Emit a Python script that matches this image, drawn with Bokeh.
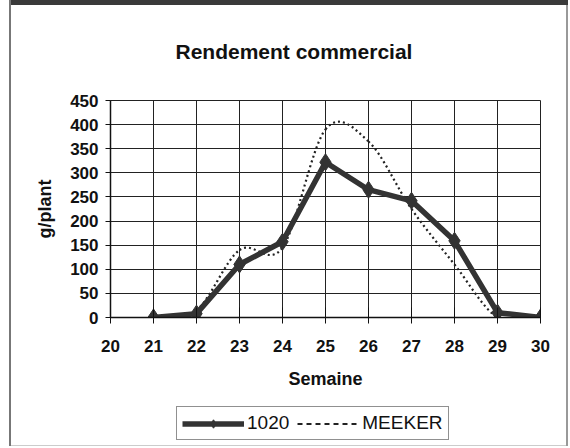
from bokeh.plotting import figure
from bokeh.models import (Range1d, FixedTicker, Legend, LegendItem, ColumnDataSource)
from bokeh.layouts import column
from bokeh.embed import file_html
from bokeh.resources import INLINE

weeks = [21, 22, 23, 24, 25, 26, 27, 28, 29, 30]
yield_1020 = [0, 8, 110, 157, 322, 265, 242, 159, 10, 0]
yield_meeker = [0, 15, 140, 145, 390, 365, 225, 110, 0, 0]
x_ticks = [20, 21, 22, 23, 24, 25, 26, 27, 28, 29, 30]
y_ticks = [0, 50, 100, 150, 200, 250, 300, 350, 400, 450]

FONT = "Liberation Sans"
W = 568

p = figure(width=W, height=400, output_backend="svg", toolbar_location=None,
           x_range=Range1d(20, 30), y_range=Range1d(0, 450),
           min_border_left=110, min_border_right=28, min_border_top=96, min_border_bottom=83)
p.background_fill_color = "white"
p.border_fill_color = None
p.outline_line_color = "#222"
p.outline_line_width = 1

p.title.text = "Rendement commercial"
p.title.align = "left"
p.title.offset = 65
p.title.text_font = FONT
p.title.text_font_size = "21px"
p.title.text_font_style = "bold"
p.title.text_color = "#111"
p.title.standoff = 75

# grids
p.xgrid.ticker = FixedTicker(ticks=x_ticks)
p.ygrid.ticker = FixedTicker(ticks=y_ticks)
for g in (p.xgrid, p.ygrid):
    g.grid_line_color = "#222"
    g.grid_line_width = 1

# axes
p.xaxis.ticker = FixedTicker(ticks=x_ticks)
p.yaxis.ticker = FixedTicker(ticks=y_ticks)
for ax in (p.xaxis, p.yaxis):
    ax.axis_line_color = "#111"
    ax.axis_line_width = 1.5
    ax.major_tick_line_color = "#111"
    ax.minor_tick_line_color = None
    ax.major_label_text_font = FONT
    ax.major_label_text_font_size = "17px"
    ax.major_label_text_font_style = "bold"
    ax.major_label_text_color = "#111"
    ax.axis_label_text_font = FONT
    ax.axis_label_text_font_style = "bold"
    ax.axis_label_text_font_size = "18px"
    ax.axis_label_text_color = "#111"
p.xaxis.major_tick_in = 10
p.xaxis.major_tick_out = 6
p.xaxis.major_label_standoff = 16
p.yaxis.major_tick_in = 0
p.yaxis.major_tick_out = 5
p.yaxis.major_label_standoff = 7
p.xaxis.axis_label = "Semaine"
p.xaxis.axis_label_standoff = 14
p.yaxis.axis_label = "g/plant"
p.yaxis.axis_label_standoff = 12

# MEEKER smoothed dotted line through its points (Bezier segments)
n = len(weeks)
x0s, y0s, x1s, y1s, cx0, cy0, cx1, cy1 = [], [], [], [], [], [], [], []
for i in range(n - 1):
    a = max(i - 1, 0)
    b = min(i + 2, n - 1)
    x0s.append(weeks[i]); y0s.append(yield_meeker[i])
    x1s.append(weeks[i + 1]); y1s.append(yield_meeker[i + 1])
    cx0.append(weeks[i] + (weeks[i + 1] - weeks[a]) / 6)
    cy0.append(yield_meeker[i] + (yield_meeker[i + 1] - yield_meeker[a]) / 6)
    cx1.append(weeks[i + 1] - (weeks[b] - weeks[i]) / 6)
    cy1.append(yield_meeker[i + 1] - (yield_meeker[b] - yield_meeker[i]) / 6)
bez_src = ColumnDataSource(dict(x0=x0s, y0=y0s, x1=x1s, y1=y1s, cx0=cx0, cy0=cy0, cx1=cx1, cy1=cy1))
p.bezier(x0="x0", y0="y0", x1="x1", y1="y1", cx0="cx0", cy0="cy0", cx1="cx1", cy1="cy1",
         source=bez_src, line_color="#222", line_width=2.2, line_dash="2 3")

# 1020 thick line with diamonds
p.line(weeks, yield_1020, line_color="#333", line_width=5.5)
p.scatter(weeks, yield_1020, marker="diamond", size=17, fill_color="#333", line_color="#333")

# legend strip below the chart
p2 = figure(width=W, height=46, output_backend="svg", toolbar_location=None,
            x_range=Range1d(0, 1), y_range=Range1d(0, 1),
            x_axis_location=None, y_axis_location=None,
            min_border_left=0, min_border_right=0, min_border_top=0, min_border_bottom=0)
p2.grid.visible = False
p2.outline_line_color = None
p2.background_fill_color = None
p2.border_fill_color = None
nan = float("nan")
leg_1020_line = p2.line(x=[nan, nan], y=[nan, nan], line_color="#333", line_width=5.5)
leg_1020_mark = p2.scatter(x=[nan], y=[nan], marker="diamond", size=14, fill_color="#333", line_color="#333")
leg_meeker = p2.line(x=[nan, nan], y=[nan, nan], line_color="#222", line_width=2, line_dash="5 4")

legend = Legend(items=[LegendItem(label="1020", renderers=[leg_1020_line, leg_1020_mark]),
                       LegendItem(label="MEEKER", renderers=[leg_meeker])],
                orientation="horizontal", location=(66, 6))
legend.label_text_font = FONT
legend.label_text_font_size = "19px"
legend.label_text_color = "#111"
legend.border_line_color = "#222"
legend.border_line_width = 1.5
legend.glyph_width = 62
legend.glyph_height = 21
legend.spacing = 8
legend.padding = 5
legend.margin = 0
legend.label_standoff = 3
legend.background_fill_color = "white"
p2.add_layout(legend, "center")

layout = column(p, p2, spacing=0, styles={
    "background-color": "white",
    "box-shadow": ("inset 9px 0 0 0 #fff, inset 11px 0 0 0 #777, inset 0 5px 0 0 #3a3a3a, "
                   "inset -2px 0 0 0 #999, inset 0 -1px 0 0 #ccc"),
})

open("out.html", "w").write(file_html(layout, INLINE))
